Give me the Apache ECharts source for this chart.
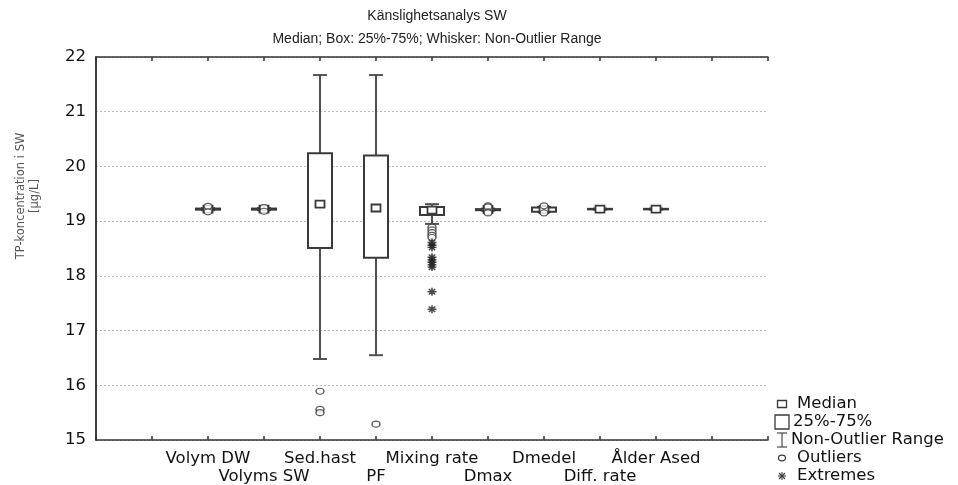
<!DOCTYPE html>
<html>
<head>
<meta charset="utf-8">
<script src="https://cdn.jsdelivr.net/npm/echarts@6/dist/echarts.min.js"></script>
<style>
html,body{margin:0;padding:0;background:#fff;}
#chart{width:958px;height:485px;}
</style>
</head>
<body>
<div id="chart"></div>
<script>
// ---- data ----
const categories = ['Volym DW','Volyms SW','Sed.hast','PF','Mixing rate','Dmax','Dmedel','Diff. rate','Ålder Ased'];
const whiskerLow  = [19.20, 19.20, 16.48, 16.55, 18.95, 19.19, 19.17, 19.21, 19.21];
const q1          = [19.21, 19.21, 18.51, 18.33, 19.11, 19.20, 19.17, 19.215, 19.215];
const median      = [19.22, 19.22, 19.31, 19.24, 19.20, 19.21, 19.21, 19.22, 19.22];
const q3          = [19.23, 19.23, 20.24, 20.20, 19.26, 19.22, 19.25, 19.225, 19.225];
const whiskerHigh = [19.24, 19.24, 21.67, 21.67, 19.31, 19.23, 19.26, 19.23, 19.23];
const outlierCat  = [0, 0, 1, 1, 2, 2, 2, 3, 4, 4, 4, 4, 4, 5, 5, 5, 5, 6, 6];
const outlierVal  = [19.27, 19.17, 19.25, 19.18, 15.89, 15.56, 15.50, 15.29, 18.89, 18.84, 18.79, 18.74, 18.70, 19.28, 19.26, 19.17, 19.15, 19.28, 19.15];
const extremeCat  = [4, 4, 4, 4, 4, 4, 4, 4, 4, 4];
const extremeVal  = [18.61, 18.56, 18.52, 18.34, 18.29, 18.25, 18.20, 18.16, 17.71, 17.39];
const yTicks = [15, 16, 17, 18, 19, 20, 21, 22];
const legendLabels = ['Median', '25%-75%', 'Non-Outlier Range', 'Outliers', 'Extremes'];

// category index -> x position on the value axis (empty slots at both ends)
const OFFSET = 2;
const boxData = categories.map((c, i) => [i + OFFSET, whiskerLow[i], q1[i], median[i], q3[i], whiskerHigh[i]]);
const outlierData = outlierCat.map((c, i) => [c + OFFSET, outlierVal[i]]);
const extremeData = extremeCat.map((c, i) => [c + OFFSET, extremeVal[i]]);

const FONT = 'DejaVu Sans, Arial, sans-serif';
const TFONT = 'Liberation Sans, Arial, sans-serif';
const LINE = '#3a3a3a';

function renderBox(params, api) {
  const x = api.value(0);
  const pLow = api.coord([x, api.value(1)]);
  const pQ1 = api.coord([x, api.value(2)]);
  const pMed = api.coord([x, api.value(3)]);
  const pQ3 = api.coord([x, api.value(4)]);
  const pHigh = api.coord([x, api.value(5)]);
  const cx = Math.round(pLow[0]);
  const bw = 24, cw = 14;
  return {
    type: 'group',
    children: [
      {type: 'line', shape: {x1: cx, y1: pLow[1], x2: cx, y2: pHigh[1]}, style: {stroke: '#505050', lineWidth: 2}},
      {type: 'line', shape: {x1: cx - cw / 2, y1: pLow[1], x2: cx + cw / 2, y2: pLow[1]}, style: {stroke: '#505050', lineWidth: 2}},
      {type: 'line', shape: {x1: cx - cw / 2, y1: pHigh[1], x2: cx + cw / 2, y2: pHigh[1]}, style: {stroke: '#505050', lineWidth: 2}},
      {type: 'rect', shape: {x: cx - bw / 2, y: pQ3[1], width: bw, height: Math.max(pQ1[1] - pQ3[1], 0.5)}, style: {fill: '#fff', stroke: LINE, lineWidth: 2}},
      {type: 'rect', shape: {x: cx - 4.5, y: pMed[1] - 3.5, width: 9, height: 7}, style: {fill: '#fff', stroke: LINE, lineWidth: 1.8}}
    ]
  };
}

const asterisk = 'path://M5 0L5 10M0 5L10 5M1.5 1.5L8.5 8.5M8.5 1.5L1.5 8.5';

const chart = echarts.init(document.getElementById('chart'), null, {renderer: 'canvas'});

const lx = 782;
const legendTextX = [797, 793, 791, 797, 797];
const legendRows = [404, 422, 440, 458, 476];
const ax = {stroke: LINE, lineWidth: 1.1};

const option = {
  animation: false,
  backgroundColor: '#fff',
  title: [
    {text: 'Känslighetsanalys SW', left: 432, top: 4, textAlign: 'center',
      textStyle: {fontFamily: TFONT, fontSize: 14, fontWeight: 'normal', color: '#222'}},
    {text: 'Median; Box: 25%-75%; Whisker: Non-Outlier Range', left: 432, top: 27, textAlign: 'center',
      textStyle: {fontFamily: TFONT, fontSize: 14, fontWeight: 'normal', color: '#222'}}
  ],
  grid: {left: 96, right: 190, top: 57, bottom: 43, containLabel: false},
  xAxis: [
    {
      type: 'value', min: 0, max: 12, interval: 1, position: 'bottom',
      axisLine: {show: true, lineStyle: {color: '#333', width: 1.5}},
      axisTick: {show: true, inside: true, length: 4, lineStyle: {color: '#333', width: 1.5}},
      splitLine: {show: false},
      axisLabel: {
        margin: 10, fontFamily: FONT, fontSize: 16.5, color: '#111', lineHeight: 17.5,
        formatter: function (v) {
          const i = Math.round(v) - OFFSET;
          if (i < 0 || i >= categories.length) return '';
          return i % 2 === 0 ? categories[i] : '\n' + categories[i];
        }
      }
    },
    {
      type: 'value', min: 0, max: 12, interval: 1, position: 'top',
      axisLine: {show: true, lineStyle: {color: '#333', width: 1.5}},
      axisTick: {show: true, inside: true, length: 4, lineStyle: {color: '#333', width: 1.5}},
      axisLabel: {show: false}, splitLine: {show: false}
    }
  ],
  yAxis: [
    {
      type: 'value', min: yTicks[0], max: yTicks[yTicks.length - 1], interval: 1,
      axisLine: {show: true, lineStyle: {color: '#333', width: 1.5}},
      axisTick: {show: false},
      axisLabel: {margin: 10, fontFamily: FONT, fontSize: 16.5, color: '#111'},
      splitLine: {show: true, lineStyle: {color: '#b8b8b8', type: [2, 2], width: 1}}
    },
    {
      type: 'value', min: yTicks[0], max: yTicks[yTicks.length - 1], interval: 1, position: 'right',
      axisLine: {show: true, lineStyle: {color: '#333', width: 1.5}},
      axisTick: {show: false}, axisLabel: {show: false}, splitLine: {show: false}
    }
  ],
  series: [
    {
      type: 'custom', name: 'box', renderItem: renderBox, data: boxData,
      encode: {x: 0, y: [1, 2, 3, 4, 5]}, z: 2
    },
    {
      type: 'scatter', name: 'Outliers', data: outlierData, symbol: 'circle', symbolSize: [8, 6],
      itemStyle: {color: '#fff', borderColor: '#333', borderWidth: 1.3}, z: 3
    },
    {
      type: 'scatter', name: 'Extremes', data: extremeData, symbol: asterisk, symbolSize: [9, 8],
      itemStyle: {color: 'rgba(0,0,0,0)', borderColor: '#222', borderWidth: 1.5}, z: 3
    }
  ],
  graphic: [
    {type: 'text', x: 28, y: 196, rotation: Math.PI / 2,
      style: {text: 'TP-koncentration i SW\n[µg/L]', fontFamily: FONT, fontSize: 11.5, fill: '#555',
        align: 'center', verticalAlign: 'middle', lineHeight: 14}},
    // legend symbols
    {type: 'rect', shape: {x: lx - 4.5, y: legendRows[0] - 3.5, width: 9, height: 7}, style: {fill: '#fff', stroke: LINE, lineWidth: 1.3}},
    {type: 'rect', shape: {x: lx - 7, y: legendRows[1] - 7, width: 14, height: 14}, style: {fill: '#fff', stroke: LINE, lineWidth: 1.3}},
    {type: 'line', shape: {x1: lx, y1: legendRows[2] - 7, x2: lx, y2: legendRows[2] + 7}, style: ax},
    {type: 'line', shape: {x1: lx - 5, y1: legendRows[2] - 7, x2: lx + 5, y2: legendRows[2] - 7}, style: ax},
    {type: 'line', shape: {x1: lx - 5, y1: legendRows[2] + 7, x2: lx + 5, y2: legendRows[2] + 7}, style: ax},
    {type: 'ellipse', shape: {cx: lx, cy: legendRows[3], rx: 3.5, ry: 2.8}, style: {fill: '#fff', stroke: LINE, lineWidth: 1.2}},
    {type: 'line', shape: {x1: lx, y1: legendRows[4] - 4, x2: lx, y2: legendRows[4] + 4}, style: ax},
    {type: 'line', shape: {x1: lx - 4, y1: legendRows[4], x2: lx + 4, y2: legendRows[4]}, style: ax},
    {type: 'line', shape: {x1: lx - 3, y1: legendRows[4] - 3, x2: lx + 3, y2: legendRows[4] + 3}, style: ax},
    {type: 'line', shape: {x1: lx + 3, y1: legendRows[4] - 3, x2: lx - 3, y2: legendRows[4] + 3}, style: ax}
  ].concat(legendLabels.map((t, i) => ({
    type: 'text', x: legendTextX[i], y: legendRows[i],
    style: {text: t, fontFamily: FONT, fontSize: 16.5, fill: '#111', verticalAlign: 'middle', align: 'left'}
  })))
};

chart.setOption(option);
</script>
</body>
</html>
